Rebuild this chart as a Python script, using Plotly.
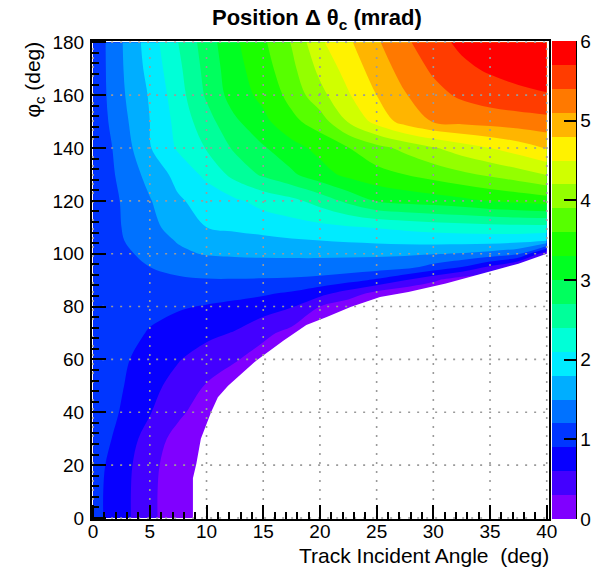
import plotly.graph_objects as go

# ---------------- data ----------------
incident_deg = [0, 2.5, 5, 7.5, 10, 12.5, 15, 17.5, 20, 22.5, 25, 27.5, 30, 32.5, 35, 37.5, 40]
phi_c_deg = [0, 10, 20, 30, 40, 50, 60, 70, 80, 85, 90, 95, 100, 105, 110, 120, 130, 140, 150, 160, 170, 180]

# position Delta theta_c (mrad), one row per phi_c value
dtheta_mrad = [
    [1.00, 0.72, 0.36, 0.14, 0.05, 0, 0, 0, 0, 0, 0, 0, 0, 0, 0, 0, 0],
    [1.00, 0.72, 0.36, 0.14, 0.05, 0, 0, 0, 0, 0, 0, 0, 0, 0, 0, 0, 0],
    [1.02, 0.74, 0.38, 0.15, 0.05, 0, 0, 0, 0, 0, 0, 0, 0, 0, 0, 0, 0],
    [1.05, 0.82, 0.45, 0.20, 0.08, 0, 0, 0, 0, 0, 0, 0, 0, 0, 0, 0, 0],
    [1.10, 0.88, 0.62, 0.36, 0.15, 0.02, 0, 0, 0, 0, 0, 0, 0, 0, 0, 0, 0],
    [1.12, 0.92, 0.70, 0.48, 0.28, 0.10, 0, 0, 0, 0, 0, 0, 0, 0, 0, 0, 0],
    [1.15, 0.95, 0.78, 0.62, 0.45, 0.33, 0.15, 0, 0, 0, 0, 0, 0, 0, 0, 0, 0],
    [1.15, 1.00, 0.88, 0.77, 0.68, 0.58, 0.38, 0.20, 0.05, 0, 0, 0, 0, 0, 0, 0, 0],
    [1.10, 1.02, 0.97, 0.93, 0.88, 0.82, 0.74, 0.62, 0.30, 0.10, 0, 0, 0, 0, 0, 0, 0],
    [1.05, 1.02, 1.02, 1.02, 1.02, 0.99, 0.94, 0.86, 0.70, 0.47, 0.20, 0.05, 0, 0, 0, 0, 0],
    [0.98, 1.04, 1.10, 1.15, 1.18, 1.18, 1.17, 1.15, 1.10, 1.00, 0.85, 0.60, 0.35, 0.10, 0, 0, 0],
    [0.94, 1.07, 1.20, 1.30, 1.35, 1.38, 1.39, 1.40, 1.40, 1.38, 1.35, 1.30, 1.10, 0.90, 0.55, 0.10, 0],
    [0.92, 1.12, 1.30, 1.45, 1.52, 1.54, 1.55, 1.55, 1.55, 1.55, 1.55, 1.54, 1.52, 1.48, 1.40, 1.25, 0.35],
    [0.90, 1.18, 1.38, 1.52, 1.62, 1.66, 1.72, 1.77, 1.80, 1.84, 1.87, 1.90, 1.92, 1.93, 1.93, 1.90, 1.82],
    [0.92, 1.20, 1.42, 1.62, 1.80, 1.87, 1.92, 1.97, 2.02, 2.07, 2.12, 2.17, 2.22, 2.25, 2.28, 2.30, 2.30],
    [0.90, 1.22, 1.48, 1.76, 1.92, 2.05, 2.20, 2.32, 2.52, 2.78, 3.02, 3.10, 3.15, 3.22, 3.32, 3.38, 3.45],
    [0.93, 1.28, 1.60, 1.90, 2.17, 2.50, 2.75, 2.95, 3.18, 3.38, 3.50, 3.60, 3.72, 3.84, 3.95, 4.07, 4.22],
    [0.95, 1.32, 1.78, 2.14, 2.42, 2.75, 2.97, 3.19, 3.39, 3.59, 3.80, 3.98, 4.17, 4.35, 4.50, 4.65, 4.82],
    [0.97, 1.40, 1.80, 2.20, 2.58, 2.95, 3.22, 3.52, 3.75, 4.22, 4.60, 4.92, 5.12, 5.18, 5.22, 5.26, 5.30],
    [0.98, 1.45, 1.83, 2.27, 2.74, 3.15, 3.38, 3.70, 4.10, 4.47, 4.80, 5.08, 5.30, 5.45, 5.56, 5.63, 5.68],
    [0.98, 1.47, 1.90, 2.33, 2.80, 3.20, 3.47, 3.82, 4.28, 4.62, 4.94, 5.22, 5.45, 5.64, 5.74, 5.81, 5.86],
    [0.98, 1.48, 1.95, 2.40, 2.85, 3.25, 3.55, 3.92, 4.45, 4.75, 5.06, 5.34, 5.60, 5.76, 5.86, 5.93, 5.98],
]

# lower edge of the filled (accepted) region
edge_x = [8.8, 8.8, 9.1, 9.5, 10.4, 11.0, 11.9, 13.4, 14.4, 16.8, 18.8, 20.6, 22.7, 25.3, 27.8, 31.1, 34.3, 37.5, 40.0]
edge_phi = [0, 15, 20.5, 30, 40, 45.7, 50, 55.8, 59.6, 67.2, 73, 76, 79.8, 83.6, 85.5, 88.7, 92.5, 96.2, 100]

x_ticks = [0, 5, 10, 15, 20, 25, 30, 35, 40]
y_ticks = [0, 20, 40, 60, 80, 100, 120, 140, 160, 180]
cbar_ticks = [0, 1, 2, 3, 4, 5, 6]

# ---------------- style ----------------
# 20 contour colours, violet -> red (rainbow palette)
palette = ["#8000ff", "#4300ff", "#0700ff", "#0036ff", "#0072ff", "#00aeff", "#00ebff",
           "#00ffd7", "#00ff9a", "#00ff5e", "#00ff22", "#1bff00", "#57ff00", "#94ff00",
           "#d0ff00", "#fff200", "#ffb500", "#ff7900", "#ff3c00", "#ff0000"]
z_lo, z_hi, z_step = 0, 6, 0.3
x_range = [-0.1, 40.2]
y_range = [-0.4, 180.5]
FONT = "Liberation Sans, Arial, Helvetica, sans-serif"

# pixel layout: plot frame x 92..549, y 41..518.5 ; colour bar x 552..576
W, H = 596, 567
L, T, B = 92, 41, 48
PW = W - L                    # paper width (right margin 0)
PH = H - T - B
def px(xp):
    return (xp - L) / PW
def py(yp):
    return (H - B - yp) / PH

n = len(palette)
colorscale = []
for k, c in enumerate(palette):
    colorscale.append([k / n, c])
    colorscale.append([(k + 1) / n, c])

fig = go.Figure()

fig.add_trace(go.Contour(
    x=incident_deg, y=phi_c_deg, z=dtheta_mrad,
    zmin=z_lo, zmax=z_hi, colorscale=colorscale,
    contours=dict(start=z_lo, end=z_hi, size=z_step, coloring="fill", showlines=False),
    line=dict(width=0),
    hoverinfo="skip",
    colorbar=dict(
        x=px(552), xanchor="left", y=0.5, yanchor="middle",
        len=1, lenmode="fraction", thickness=24, thicknessmode="pixels",
        xpad=0, ypad=0, outlinewidth=0,
        tickmode="array", tickvals=cbar_ticks,
        ticks="inside", ticklen=12, tickwidth=2, tickcolor="black",
        tickfont=dict(family=FONT, size=19, color="black"),
    ),
))

# white area where there is no entry
mask_x = edge_x + [x_range[1], x_range[1], edge_x[0]]
mask_y = edge_phi + [edge_phi[-1], y_range[0], y_range[0]]
fig.add_trace(go.Scatter(
    x=mask_x, y=mask_y, mode="lines", fill="toself",
    fillcolor="white", line=dict(width=0, color="white"),
    hoverinfo="skip", showlegend=False,
))

# dotted grid drawn on top of the map (as ROOT does)
gx, gy = [], []
for xv in x_ticks:
    gx += [xv, xv, None]
    gy += [phi_c_deg[0], phi_c_deg[-1], None]
for yv in y_ticks:
    gx += [incident_deg[0], incident_deg[-1], None]
    gy += [yv, yv, None]
fig.add_trace(go.Scatter(
    x=gx, y=gy, mode="lines",
    line=dict(color="#9a9a9a", width=1.6, dash="2px,7px"),
    hoverinfo="skip", showlegend=False,
))

axis_common = dict(
    showgrid=False, zeroline=False, showline=True, linecolor="black",
    linewidth=2, mirror=True, ticks="inside", tickcolor="black",
    tickwidth=2, ticklen=14,
    tickfont=dict(family=FONT, size=19, color="black"),
)
fig.update_xaxes(range=x_range, domain=[0, px(549)], tickmode="array", tickvals=x_ticks,
                 minor=dict(dtick=1, tick0=0, ticks="inside", ticklen=7,
                            tickwidth=2, tickcolor="black", showgrid=False),
                 ticklabelstandoff=-6, **axis_common)
fig.update_yaxes(range=y_range, tickmode="array", tickvals=y_ticks,
                 minor=dict(dtick=4, tick0=0, ticks="inside", ticklen=7,
                            tickwidth=2, tickcolor="black", showgrid=False),
                 ticklabelstandoff=2, **axis_common)

fig.update_layout(
    width=W, height=H,
    margin=dict(l=L, r=0, t=T, b=B, pad=0, autoexpand=False),
    paper_bgcolor="white", plot_bgcolor="white",
    showlegend=False,
    font=dict(family=FONT, color="black"),
    shapes=[dict(type="line", xref="paper", yref="paper",
                 x0=px(576), x1=px(576), y0=0, y1=1,
                 line=dict(color="black", width=2))],
    annotations=[
        dict(text="<b>Position Δ θ<sub>c</sub> (mrad)</b>", xref="paper", yref="paper",
             x=px(317), y=py(19), xanchor="center", yanchor="middle",
             showarrow=False, font=dict(family=FONT, size=22, color="black")),
        dict(text="Track Incident Angle&nbsp; (deg)", xref="paper", yref="paper",
             x=px(551), y=py(555), xanchor="right", yanchor="middle",
             showarrow=False, font=dict(family=FONT, size=21, color="black")),
        dict(text="φ<sub>c</sub> (deg)", xref="paper", yref="paper",
             x=px(34), y=1.003, xanchor="center", yanchor="top", textangle=-90,
             showarrow=False, font=dict(family=FONT, size=21, color="black")),
    ],
)

fig.write_html("out.html")
